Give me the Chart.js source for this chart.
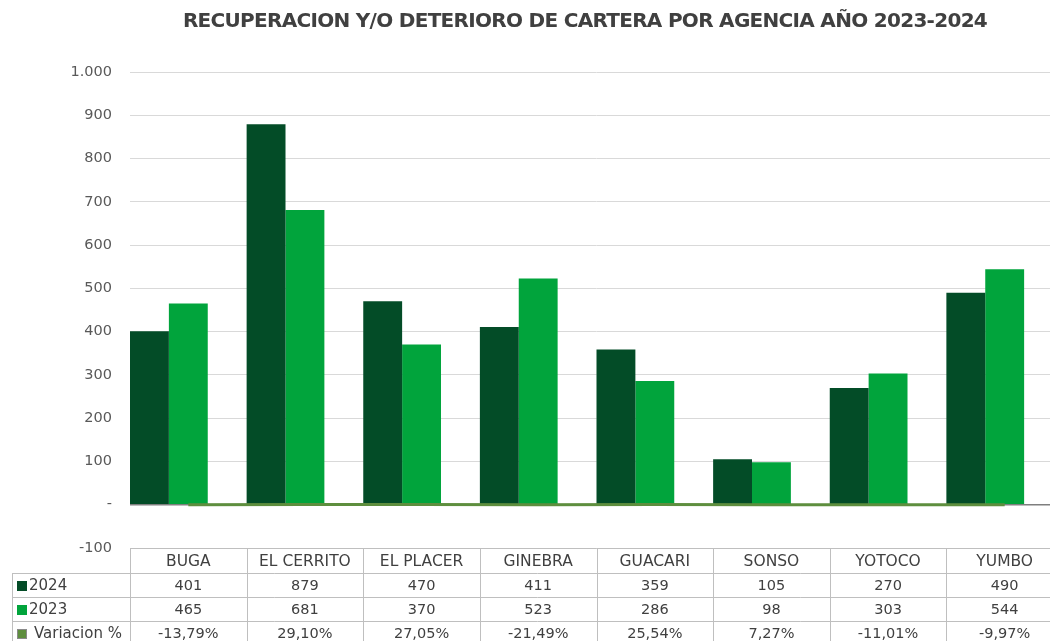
<!DOCTYPE html>
<html>
<head>
<meta charset="utf-8">
<script src="https://cdn.jsdelivr.net/npm/chart.js@4"></script>
<style>
  html, body { margin: 0; padding: 0; background: #fff; overflow: hidden; }
  #wrap { position: relative; width: 1050px; height: 641px; overflow: hidden; }
  #title {
    position: absolute; left: 135px; top: 8px; width: 900px; text-align: center;
    font: bold 20px "DejaVu Sans", sans-serif; color: #404040; letter-spacing: -0.7px;
    white-space: nowrap;
  }
  canvas { position: absolute; left: 0; top: 0; }
</style>
</head>
<body>
<div id="wrap">
  <canvas id="chart" width="1064" height="641"></canvas>
  <div id="title">RECUPERACION Y/O DETERIORO DE CARTERA POR AGENCIA AÑO 2023-2024</div>
</div>
<script>
// data
var categories = ['BUGA', 'EL CERRITO', 'EL PLACER', 'GINEBRA', 'GUACARI', 'SONSO', 'YOTOCO', 'YUMBO'];
var values2024 = [401, 879, 470, 411, 359, 105, 270, 490];
var values2023 = [465, 681, 370, 523, 286, 98, 303, 544];
var variacion = [-13.79, 29.10, 27.05, -21.49, 25.54, 7.27, -11.01, -9.97]; // percent

var DARK = '#034c27';
var LIGHT = '#01a43c';
var OLIVE = '#5e8e3e';
var FONT = '"DejaVu Sans", sans-serif';

function fmtThousands(v) {
  if (v === 0) return '-';
  var s = String(Math.abs(v)).replace(/\B(?=(\d{3})+(?!\d))/g, '.');
  return (v < 0 ? '-' : '') + s;
}
function fmtPct(v) {
  return v.toFixed(2).replace('.', ',') + '%';
}
function toPoints(arr) {
  return arr.map(function (v, i) { return { x: i, y: v }; });
}
// one linear index scale per bar series, shifted inside each column
function barScale(shift) {
  return {
    type: 'linear',
    display: false,
    offset: false,
    bounds: 'data',
    min: -shift,
    max: categories.length - shift,
    afterBuildTicks: function (s) {
      s.ticks = categories.map(function (c, i) { return { value: i }; });
    }
  };
}

// table under the plot, columns follow the category scale (x2)
var dataTable = {
  id: 'dataTable',
  afterDraw: function (chart) {
    var ctx = chart.ctx;
    var x = chart.scales.x2;
    var area = chart.chartArea;
    var top = area.bottom;
    var rowH = [25, 24, 24, 24];
    var rowsY = [top];
    for (var i = 0; i < rowH.length; i++) rowsY.push(rowsY[i] + rowH[i]);
    var colW = (area.right - area.left) / categories.length;
    var legendLeft = 12;

    ctx.save();
    ctx.strokeStyle = '#bfbfbf';
    ctx.lineWidth = 1;
    ctx.beginPath();
    ctx.moveTo(area.left, rowsY[0] + 0.5); ctx.lineTo(area.right, rowsY[0] + 0.5);
    for (var r = 1; r < rowsY.length; r++) {
      ctx.moveTo(legendLeft, rowsY[r] + 0.5); ctx.lineTo(area.right, rowsY[r] + 0.5);
    }
    ctx.moveTo(legendLeft + 0.5, rowsY[1]); ctx.lineTo(legendLeft + 0.5, rowsY[4]);
    for (var c = 0; c <= categories.length; c++) {
      var cx = Math.round(area.left + c * colW) + 0.5;
      ctx.moveTo(cx, rowsY[0]); ctx.lineTo(cx, rowsY[4]);
    }
    ctx.stroke();

    ctx.fillStyle = '#404040';
    ctx.textAlign = 'center';
    ctx.textBaseline = 'middle';
    var rows = [
      categories,
      values2024.map(String),
      values2023.map(String),
      variacion.map(fmtPct)
    ];
    for (var r2 = 0; r2 < rows.length; r2++) {
      ctx.font = (r2 === 0 ? '15.5px ' : '14.5px ') + FONT;
      var cy = rowsY[r2] + rowH[r2] / 2 + 1;
      for (var k = 0; k < categories.length; k++) {
        ctx.fillText(rows[r2][k], x.getPixelForValue(k), cy);
      }
    }

    // legend column
    var keys = [
      { label: '2024', color: DARK, tx: 29 },
      { label: '2023', color: LIGHT, tx: 29 },
      { label: 'Variacion %', color: OLIVE, tx: 34, border: true }
    ];
    ctx.textAlign = 'left';
    ctx.font = '15px ' + FONT;
    for (var j = 0; j < keys.length; j++) {
      var ry = rowsY[j + 1] + rowH[j + 1] / 2 + 1;
      ctx.fillStyle = keys[j].color;
      ctx.fillRect(17, ry - 5, 10, 10);
      if (keys[j].border) {
        ctx.strokeStyle = '#8a8a8a';
        ctx.strokeRect(17.5, ry - 4.5, 9, 9);
      }
      ctx.fillStyle = '#404040';
      ctx.fillText(keys[j].label, keys[j].tx, ry);
    }
    ctx.restore();
  }
};

new Chart(document.getElementById('chart'), {
  type: 'bar',
  data: {
    labels: categories,
    datasets: [{
      label: '2024',
      xAxisID: 'x',
      data: toPoints(values2024),
      backgroundColor: DARK,
      order: 2
    }, {
      label: '2023',
      xAxisID: 'xb',
      data: toPoints(values2023),
      backgroundColor: LIGHT,
      order: 2
    }, {
      type: 'line',
      label: 'Variacion %',
      xAxisID: 'x2',
      data: variacion.map(function (v) { return v / 100; }),
      borderColor: OLIVE,
      borderWidth: 3,
      pointRadius: 0,
      tension: 0,
      order: 1
    }]
  },
  options: {
    responsive: false,
    animation: false,
    devicePixelRatio: 1,
    layout: { padding: { top: 72, bottom: 93, left: 0, right: 1 } },
    plugins: {
      legend: { display: false },
      tooltip: { enabled: false },
      title: { display: false }
    },
    datasets: {
      bar: { grouped: false, categoryPercentage: 1 / 3, barPercentage: 1.0 }
    },
    scales: {
      // bars fill the left two thirds of each column, as in the source
      x: barScale(1 / 6),
      xb: barScale(1 / 2),
      x2: {
        type: 'category',
        display: false,
        offset: true
      },
      y: {
        min: -100,
        max: 1000,
        afterFit: function (s) { s.width = 130; },
        border: { display: false },
        grid: {
          drawTicks: false,
          color: function (c) { return c.tick.value === 0 ? '#7f7f7f' : '#d9d9d9'; },
          lineWidth: function (c) { return c.tick.value === 0 ? 1.5 : 1; }
        },
        ticks: {
          stepSize: 100,
          padding: 18,
          color: '#595959',
          font: { family: FONT, size: 14.5 },
          callback: function (v) { return fmtThousands(v); }
        }
      }
    }
  },
  plugins: [dataTable]
});
</script>
</body>
</html>
